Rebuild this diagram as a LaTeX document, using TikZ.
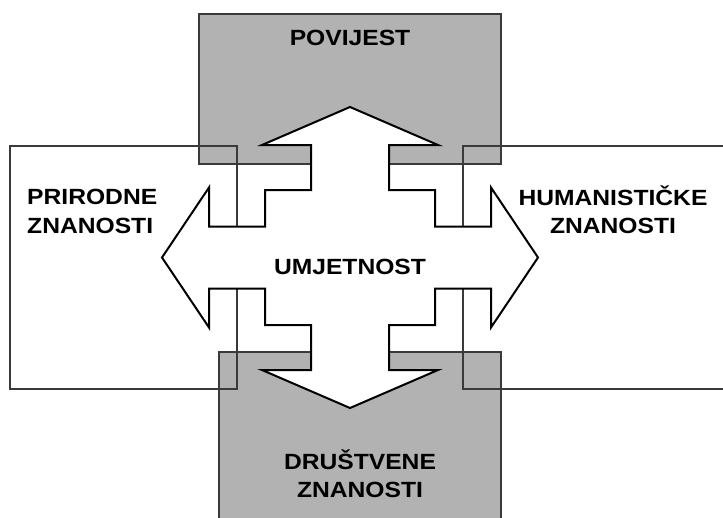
\documentclass[tikz,border=0pt]{standalone}
\usepackage{fontspec}
\newfontfamily\lblfont{Liberation Sans}[FakeStretch=1.12]
\definecolor{boxgray}{HTML}{B2B2B2}
\definecolor{edgegray}{HTML}{3A3A3A}
\begin{document}
\begin{tikzpicture}[x=1pt,y=-1pt,
  graybox/.style={fill=boxgray,draw=edgegray,line width=1.3pt},
  openbox/.style={draw=edgegray,line width=1.3pt},
  crossarrow/.style={fill=white,draw=black,line width=2pt,line join=miter},
  lbl/.style={inner sep=0pt,font=\lblfont\bfseries\fontsize{22}{28.5}\selectfont,text=black}]
\useasboundingbox (0,0) rectangle (723,517);
% gray boxes
\draw[graybox] (199,14) rectangle (501,164);
\draw[graybox] (219,352) rectangle (501,540);
% open rectangles
\draw[openbox] (10,146) rectangle (237,389);
\draw[openbox] (740,146) -- (463,146) -- (463,389) -- (740,389);
% four-way arrow
\draw[crossarrow] (350,107) -- (438,145) -- (389,145) -- (389,190) -- (435,190)
  -- (435,226.5) -- (491,226.5) -- (491,187.5) -- (538,257.5) -- (491,327.5)
  -- (491,288.5) -- (435,288.5) -- (435,325) -- (389,325) -- (389,370)
  -- (438,370) -- (350,408) -- (262,370) -- (311,370) -- (311,325)
  -- (265,325) -- (265,288.5) -- (209,288.5) -- (209,327.5) -- (162,257.5)
  -- (209,187.5) -- (209,226.5) -- (265,226.5) -- (265,190) -- (311,190)
  -- (311,145) -- (262,145) -- cycle;
% labels
\node[lbl] (povijest) at (350,37.5) {POVIJEST};
\node[lbl,anchor=west,align=left] (prirodne) at (27,211.3) {PRIRODNE\\ZNANOSTI};
\node[lbl,align=center] (humanisticke) at (613,209.5) {HUMANISTIČKE\\ZNANOSTI};
\node[lbl] (umjetnost) at (350,266.7) {UMJETNOST};
\node[lbl,align=center] (drustvene) at (360,473.7) {DRUŠTVENE\\ZNANOSTI};
\end{tikzpicture}
\end{document}
